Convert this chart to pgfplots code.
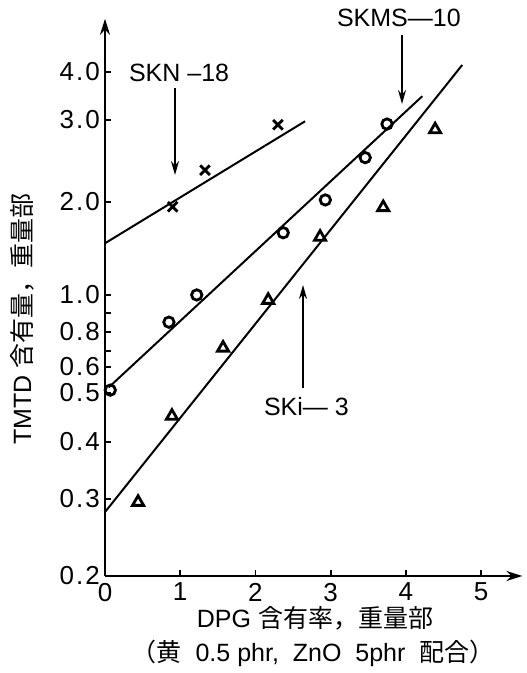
\documentclass[border=0pt]{standalone}
\usepackage{fontspec}
\setmainfont{Liberation Sans}
\newfontfamily\jp{Noto Sans CJK JP}
\newfontfamily\tickfont[LetterSpace=8]{Liberation Sans}
\usepackage{pgfplots}
\pgfplotsset{compat=1.18}
\usetikzlibrary{arrows.meta}
\begin{document}
\begin{tikzpicture}
\path[use as bounding box] (-52.5pt,-48.5pt) rectangle (210.5pt,288pt);
\begin{axis}[
  at={(0,0)}, anchor=south west,
  x=37.6pt, y=0.5pt,
  disabledatascaling,
  xmin=0, xmax=5.55, ymin=0.2, ymax=5.5,
  y coord trafo/.code={\pgfmathparse{(#1<0.3) ? (77*ln(#1/0.2)/0.405465) : ((#1<0.4) ? (77+57*ln(#1/0.3)/0.287682) : ((#1<0.5) ? (134+49*ln(#1/0.4)/0.223144) : ((#1<0.6) ? (183+26*ln(#1/0.5)/0.182322) : ((#1<0.7) ? (209+16*ln(#1/0.6)/0.154151) : ((#1<0.8) ? (225+19*ln(#1/0.7)/0.133531) : ((#1<0.9) ? (244+19*ln(#1/0.8)/0.117783) : ((#1<1) ? (263+18*ln(#1/0.9)/0.105361) : ((#1<2) ? (281+93*ln(#1)/0.693147) : ((#1<3) ? (374+82*ln(#1/2)/0.405465) : (456+48*ln(#1/3)/0.287682))))))))))}},
  axis lines=left,
  axis line style={line width=1.1pt, -{Stealth[length=8pt,width=5pt]}},
  tick align=inside, major tick length=3pt,
  tick style={line width=0.9pt, black},
  xtick={0,1,2,3,4,5},
  xticklabels={0,1,2,3,4,5},
  ytick={0.2,0.3,0.4,0.5,0.6,0.7,0.8,0.9,1,2,3,4},
  yticklabels={0.2,0.3,0.4,0.5,0.6,,0.8,,1.0,2.0,3.0,4.0},
  tick label style={font=\tickfont\fontsize{13}{15}\selectfont},
  yticklabel style={xshift=1pt},
  /pgf/number format/assume math mode=true,
  clip=false,
]
% SKN-18
\addplot[only marks, mark=x, mark size=3.4pt, line width=1.4pt, black] coordinates {(0.9,1.93) (1.33,2.34) (2.30,2.93)};
\addplot[line width=1pt, black] coordinates {(0,1.47) (2.66,2.98)};
% SKMS-10
\addplot[only marks, mark=o, mark size=2.6pt, line width=1.4pt, black] coordinates {(0.07,0.51) (0.85,0.85) (1.22,1.0) (2.37,1.59) (2.93,2.02) (3.46,2.49) (3.75,2.94)};
\addplot[line width=1pt, black] coordinates {(0.05,0.52) (4.22,3.46)};
% SKi-3
\addplot[only marks, mark=triangle, mark size=3.2pt, line width=1.4pt, black] coordinates {(0.44,0.295) (0.89,0.45) (1.57,0.715) (2.17,0.97) (2.86,1.54) (3.70,1.92) (4.39,2.86)};
\addplot[line width=1pt, black] coordinates {(0,0.28) (4.75,4.17)};
\end{axis}
\begin{scope}[x=0.5pt, y=-0.5pt, shift={(-52.5pt,288pt)}]
\node[font=\fontsize{12.5}{14}\selectfont, anchor=west] at (122,73) {SKN –18};
\draw[line width=0.9pt, -{Stealth[length=7pt,width=4pt]}] (175,88) -- (175,175);
\node[font=\fontsize{12.5}{14}\selectfont, anchor=west] at (330,18) {SKMS—10};
\draw[line width=0.9pt, -{Stealth[length=7pt,width=4pt]}] (402,35) -- (402,104);
\node[font=\fontsize{12.5}{14}\selectfont, anchor=west] at (257,407) {SKi— 3};
\draw[line width=0.9pt, -{Stealth[length=7pt,width=4pt]}] (303,388) -- (303,285);
\node[rotate=90, font=\fontsize{12.5}{14}\selectfont] at (22,319) {TMTD {\jp 含有量，重量部}};
\node[font=\fontsize{12.5}{14}\selectfont] at (315,618) {DPG {\jp 含有率，重量部}};
\node[font=\fontsize{12.5}{14}\selectfont] at (313,653) {{\jp（黄}\ \ 0.5 phr,\ \ ZnO\ \ 5phr\ \ {\jp 配合）}};
\end{scope}
\end{tikzpicture}
\end{document}
